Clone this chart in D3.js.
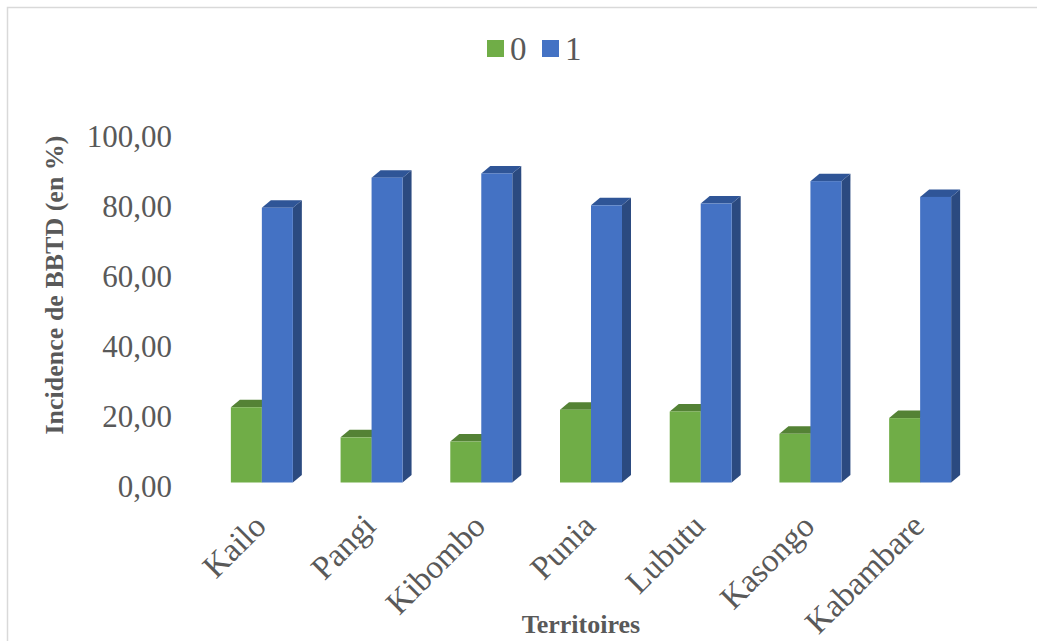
<!DOCTYPE html>
<html>
<head>
<meta charset="utf-8">
<script src="https://cdn.jsdelivr.net/npm/d3@7"></script>
<style>
  html, body { margin: 0; padding: 0; background: #ffffff; }
  svg { display: block; }
  text { font-family: "Liberation Serif", "Times New Roman", serif; fill: #595959; }
</style>
</head>
<body>
<svg id="chart" width="1037" height="641"></svg>
<script>
// ---- data ----
const categories = ["Kailo", "Pangi", "Kibombo", "Punia", "Lubutu", "Kasongo", "Kabambare"];
const seriesNames = ["0", "1"];
const series0 = [21.5, 12.9, 11.7, 20.8, 20.3, 13.9, 18.4];
const series1 = [78.5, 87.1, 88.3, 79.2, 79.7, 86.1, 81.6];
const yTicks = [0, 20, 40, 60, 80, 100];
const yTitle = "Incidence de BBTD (en %)";
const xTitle = "Territoires";

// ---- styles ----
const colors = {
  "0": { front: "#70AD47", top: "#548235", side: "#4E7A31" },
  "1": { front: "#4472C4", top: "#2F5597", side: "#2B4A80" }
};
const depthX = 9, depthY = 7.5;

const svg = d3.select("#chart");
const W = 1037, H = 641;

// frame
svg.append("rect")
  .attr("x", 7.5).attr("y", 7.5)
  .attr("width", W + 10).attr("height", H + 10)
  .attr("fill", "#ffffff").attr("stroke", "#d9d9d9").attr("stroke-width", 1.5);

// scales
const y = d3.scaleLinear().domain([0, 100]).range([482.5, 132.5]);
const x0 = d3.scaleBand().domain(categories).range([207, 975]).paddingInner(0).paddingOuter(0);
const x1 = d3.scaleBand().domain(seriesNames).range([0, x0.bandwidth()]).paddingInner(0).paddingOuter(0.77);

const rows = categories.map((c, i) => ({ cat: c, vals: [series0[i], series1[i]] }));

// y tick labels
const fmt = v => d3.format(".2f")(v).replace(".", ",");
svg.append("g").selectAll("text").data(yTicks).join("text")
  .attr("x", 172)
  .attr("y", d => y(d) + 7)
  .attr("text-anchor", "end")
  .attr("dominant-baseline", "middle")
  .attr("font-size", 31)
  .text(fmt);

// bars
const groups = svg.append("g").selectAll("g").data(rows).join("g")
  .attr("transform", d => `translate(${x0(d.cat)},0)`);

groups.each(function (d) {
  const g = d3.select(this);
  seriesNames.forEach((s, si) => {
    const v = d.vals[si];
    const xl = x1(s), xr = xl + x1.bandwidth();
    const yt = y(v), yb = y(0);
    const c = colors[s];
    // side face
    g.append("path")
      .attr("d", `M${xr},${yt} L${xr + depthX},${yt - depthY} L${xr + depthX},${yb - depthY} L${xr},${yb} Z`)
      .attr("fill", c.side);
    // top face
    g.append("path")
      .attr("d", `M${xl},${yt} L${xl + depthX},${yt - depthY} L${xr + depthX},${yt - depthY} L${xr},${yt} Z`)
      .attr("fill", c.top);
    // front face
    g.append("rect")
      .attr("x", xl).attr("y", yt)
      .attr("width", xr - xl).attr("height", yb - yt)
      .attr("fill", c.front);
  });
});

// category labels
svg.append("g").selectAll("text").data(categories).join("text")
  .attr("transform", d => `translate(${x0(d) + x0.bandwidth() / 2 + 6},528) rotate(-45)`)
  .attr("text-anchor", "end")
  .attr("font-size", 33)
  .text(d => d);

// axis titles
svg.append("text")
  .attr("transform", "translate(63,285) rotate(-90)")
  .attr("text-anchor", "middle")
  .attr("font-size", 26)
  .attr("font-weight", "bold")
  .text(yTitle);

svg.append("text")
  .attr("x", 581).attr("y", 633)
  .attr("text-anchor", "middle")
  .attr("font-size", 26)
  .attr("font-weight", "bold")
  .text(xTitle);

// legend
const leg = svg.append("g").selectAll("g").data(seriesNames).join("g")
  .attr("transform", (d, i) => `translate(${487 + i * 55},40)`);
leg.append("rect").attr("width", 17).attr("height", 17).attr("fill", d => colors[d].front);
leg.append("text").attr("x", 23).attr("y", 20).attr("font-size", 33).text(d => d);
</script>
</body>
</html>
